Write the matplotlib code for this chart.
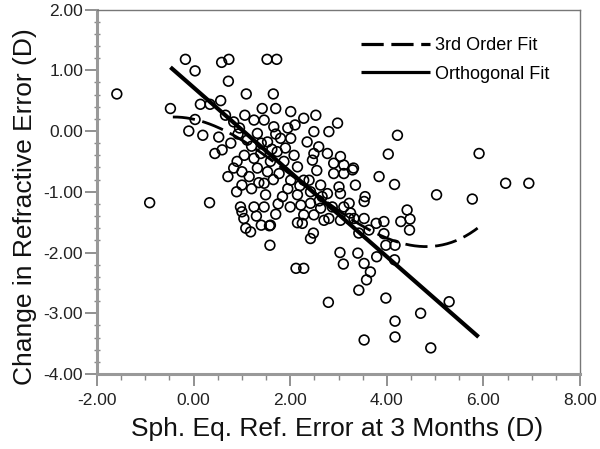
import numpy as np
import matplotlib
matplotlib.use('Agg')
import matplotlib.pyplot as plt
from matplotlib.ticker import MultipleLocator, FormatStrFormatter
from matplotlib.lines import Line2D

# ---- data ----
pts = [
    (-1.59, 0.61), (-0.91, -1.18), (0.33, -1.18),
    (-0.17, 1.18), (0.03, 0.99), (0.58, 1.13), (0.73, 1.18), (0.72, 0.82),
    (1.09, 0.61), (1.65, 0.61), (1.52, 1.18), (1.72, 1.18),
    (-0.48, 0.37), (0.03, 0.19), (-0.10, 0.00), (0.19, -0.07), (0.14, 0.44),
    (0.34, 0.44), (0.56, 0.50), (0.52, -0.10), (0.44, -0.37), (0.59, -0.31),
    (0.66, 0.26), (0.83, 0.15), (1.06, 0.26), (0.92, -0.05), (1.11, -0.15),
    (0.77, -0.20), (0.90, -0.50), (0.83, -0.61), (1.00, -0.67), (0.71, -0.75),
    (1.00, -0.89), (0.89, -1.00),
    (1.00, -1.33), (1.04, -1.44), (1.08, -1.60), (0.97, -1.25), (1.18, -1.66),
    (1.59, -1.55), (1.58, -1.88), (2.12, -2.26), (2.28, -2.26), (2.15, -1.51),
    (1.25, -1.25), (1.46, -1.25), (1.70, -1.37), (1.57, -1.56),
    (2.79, -2.82), (3.03, -2.00), (3.10, -2.19), (2.42, -1.77), (2.48, -1.68),
    (2.28, -1.38), (2.49, -1.38), (2.25, -1.52), (2.70, -1.47), (2.80, -1.44),
    (3.04, -1.47), (3.22, -1.44),
    (2.22, -1.22), (2.42, -1.19), (2.63, -1.27), (2.87, -1.25), (3.11, -1.25),
    (3.40, -2.01), (3.53, -2.18), (3.66, -2.32), (3.58, -2.45), (3.42, -2.62),
    (3.53, -3.44), (3.79, -2.07), (3.98, -2.75), (4.17, -3.13), (4.17, -3.39),
    (4.16, -2.12), (4.17, -1.88), (3.98, -1.88), (3.94, -1.69),
    (4.70, -3.00), (4.91, -3.57), (5.29, -2.81), (3.42, -1.68), (3.63, -1.63),
    (3.78, -1.52), (3.94, -1.49), (4.29, -1.49), (4.47, -1.63), (4.42, -1.30),
    (4.48, -1.45), (3.53, -1.16), (3.32, -1.44), (3.53, -1.44),
    (4.22, -0.07), (4.03, -0.38), (3.31, -0.61), (3.35, -0.89), (3.84, -0.75),
    (4.16, -0.88), (3.55, -1.08), (5.03, -1.05),
    (5.91, -0.37), (5.77, -1.12), (6.46, -0.86), (6.94, -0.86),
    (2.28, 0.21), (2.53, 0.26), (2.98, 0.13), (2.80, -0.01), (2.49, -0.01),
    (2.35, -0.18), (2.59, -0.26), (2.49, -0.37),
    (3.04, -0.42), (2.90, -0.53), (3.11, -0.56), (3.29, -0.64), (2.90, -0.70),
    (3.11, -0.70),
    (2.39, -0.81), (2.63, -0.89), (2.42, -1.00), (2.66, -1.08),
    (3.04, -1.03), (3.22, -1.19), (3.25, -1.35),
    (1.42, 0.37), (1.70, 0.37), (2.01, 0.32),
    (1.25, 0.18), (1.46, 0.18), (1.66, 0.07), (1.32, -0.04), (1.53, -0.18),
    (1.80, -0.12), (2.01, -0.12), (1.39, -0.37), (1.73, -0.34), (1.90, -0.28),
    (2.08, -0.40), (1.59, -0.50), (1.87, -0.50), (1.32, -0.61), (1.53, -0.67),
    (1.77, -0.70), (2.15, -0.59), (2.46, -0.48), (2.77, -0.37), (3.01, -0.92),
    (1.46, -0.86), (2.01, -0.81), (2.28, -0.81), (1.49, -1.05), (1.84, -1.08),
    (2.15, -1.05), (2.77, -1.03),
    (0.95, 0.05), (1.20, -0.25), (1.05, -0.40), (1.25, -0.45), (1.15, -0.75),
    (1.35, -0.85), (1.20, -0.95), (1.40, -0.20), (1.62, -0.30), (1.70, -0.05),
    (1.95, 0.05), (2.10, 0.10), (1.65, -0.80), (1.95, -0.95), (2.20, -0.90),
    (1.30, -1.40), (1.40, -1.55), (1.75, -1.20), (2.00, -1.25), (2.55, -0.65),
    (2.60, -1.15),
]
x_vals = [p[0] for p in pts]
y_vals = [p[1] for p in pts]

# orthogonal fit line
ortho_slope = -0.696
ortho_intercept = 0.716
ortho_range = [-0.48, 5.9]

# points
cubic_x = [-0.43, 0.56, 4.30, 4.97, 5.88]
cubic_y = [0.23, 0.04, -1.85, -1.89, -1.60]
cubic_range = [-0.43, 5.88]

x_ticks = [-2, 0, 2, 4, 6, 8]
y_ticks = [-4, -3, -2, -1, 0, 1, 2]

# ---- drawing ----
plt.rcParams['font.family'] = ['Liberation Sans', 'DejaVu Sans']
plt.rcParams['lines.scale_dashes'] = False

fig = plt.figure(figsize=(6, 4.49), dpi=100)
ax = fig.add_axes([0.1617, 0.167, 0.805, 0.8118])

ax.scatter(x_vals, y_vals, s=49, facecolors='none', edgecolors='black',
           linewidths=1.2, zorder=3)

xo = np.array(ortho_range)
ax.plot(xo, ortho_intercept + ortho_slope * xo, color='black', lw=3.0,
        solid_capstyle='butt', zorder=4)

coef = np.polyfit(cubic_x, cubic_y, 3)
xc = np.linspace(cubic_range[0], cubic_range[1], 200)
dash = (0, (16, 5.5))
ax.plot(xc, np.polyval(coef, xc), color='black', lw=2.0, linestyle=dash,
        dash_capstyle='butt', zorder=4)

ax.set_xlim(-2, 8)
ax.set_ylim(-4, 2)
ax.set_xticks(x_ticks)
ax.set_yticks(y_ticks)
ax.xaxis.set_minor_locator(MultipleLocator(0.5))
ax.yaxis.set_minor_locator(MultipleLocator(0.2))
ax.xaxis.set_major_formatter(FormatStrFormatter('%.2f'))
ax.yaxis.set_major_formatter(FormatStrFormatter('%.2f'))

ax.tick_params(axis='both', which='major', labelsize=12.5, colors='#888888',
               labelcolor='#222222', width=1.3, length=8.5, direction='out')
ax.tick_params(axis='x', which='major', pad=5)
ax.tick_params(axis='y', which='major', pad=1.5)
ax.tick_params(axis='x', which='minor', colors='#888888', width=1.0,
               length=4, direction='out')
ax.tick_params(axis='y', which='minor', colors='#888888', width=1.0,
               length=5, direction='inout')

for s in ['left', 'bottom']:
    ax.spines[s].set_color('#999999')
    ax.spines[s].set_linewidth(2.2)
for s in ['top', 'right']:
    ax.spines[s].set_color('#777777')
    ax.spines[s].set_linewidth(1.0)

ax.set_xlabel('Sph. Eq. Ref. Error at 3 Months (D)', fontsize=19, color='#111111')
ax.set_ylabel('Change in Refractive Error (D)', fontsize=19, color='#111111')
ax.xaxis.set_label_coords(0.498, -0.118)
ax.yaxis.set_label_coords(-0.125, 0.458)

handles = [Line2D([], [], color='black', lw=2.3, linestyle=dash, dash_capstyle='butt'),
           Line2D([], [], color='black', lw=2.3, solid_capstyle='butt')]
ax.legend(handles, ['3rd Order Fit', 'Orthogonal Fit'], loc='upper left',
          bbox_to_anchor=(0.547, 0.925), frameon=False, fontsize=13,
          handlelength=3.8, handletextpad=0.3, labelspacing=0.65,
          borderpad=0, borderaxespad=0)

fig.savefig('out.png', dpi=100)
